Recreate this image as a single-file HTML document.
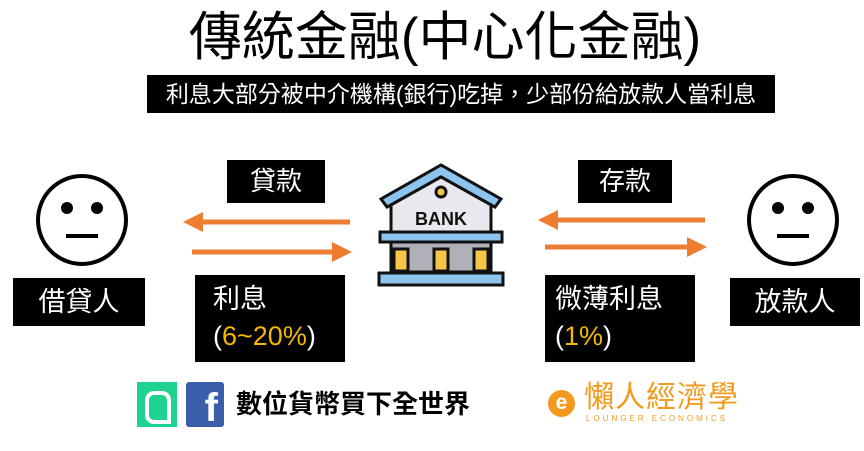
<!DOCTYPE html>
<html><head><meta charset="utf-8"><style>
body{margin:0;width:864px;height:451px;background:#fff;position:relative;overflow:hidden;font-family:"Liberation Sans","Noto Sans CJK TC",sans-serif}
.a{position:absolute}
.box{position:absolute;background:#000;color:#fff}
</style></head><body>
<div class="a" style="left:0;width:890px;top:4px;text-align:center;font-size:53px;line-height:68px;color:#000">傳統金融(中心化金融)</div>
<div class="box" style="left:147px;top:75px;width:628px;height:38px;font-size:23px;line-height:38px;text-align:center">利息大部分被中介機構(銀行)吃掉，少部份給放款人當利息</div>

<svg class="a" style="left:0;top:0" width="864" height="451">
<defs><marker id="ah" markerWidth="4" markerHeight="4" refX="2" refY="2" orient="auto"><path d="M0,0L4,2L0,4z" fill="#ED7D31"/></marker></defs>
<g fill="none" stroke="#000" stroke-width="4">
<circle cx="82" cy="220" r="44"/><circle cx="67" cy="208" r="4" fill="#000"/><circle cx="97" cy="208" r="4" fill="#000"/><line x1="66" y1="236" x2="98" y2="236"/></g>
<g fill="none" stroke="#000" stroke-width="4">
<circle cx="793" cy="220" r="44"/><circle cx="778" cy="208" r="4" fill="#000"/><circle cx="808" cy="208" r="4" fill="#000"/><line x1="777" y1="236" x2="809" y2="236"/></g>
<g stroke="#ED7D31" stroke-width="5" marker-end="url(#ah)">
<line x1="350" y1="222" x2="193" y2="222"/>
<line x1="192" y1="252" x2="342" y2="252"/>
<line x1="705" y1="220" x2="548" y2="220"/>
<line x1="545" y1="247" x2="697" y2="247"/></g>
<g stroke="#111" stroke-width="3">
<path d="M381,199 L441,165 L501,199 L495,207 L441,177 L387,207Z" fill="#8CC4EE"/>
<path d="M391,205 L441,177 L491,205 L491,232 L391,232Z" fill="#E8E8EE"/>
<circle cx="441" cy="192" r="5" fill="#F7C548"/>
<text x="441" y="225" text-anchor="middle" font-size="18" font-weight="bold" stroke="none" fill="#111" font-family="Liberation Sans">BANK</text>
<rect x="380" y="232" width="122" height="10" fill="#8CC4EE"/>
<rect x="391" y="242" width="100" height="30" fill="#B0B0B8"/>
<rect x="394" y="249" width="14" height="22" fill="#F7C548"/>
<rect x="434" y="249" width="14" height="22" fill="#F7C548"/>
<rect x="474" y="249" width="14" height="22" fill="#F7C548"/>
<rect x="379" y="273" width="124" height="12" fill="#8CC4EE"/></g>
</svg>

<div class="box" style="left:227px;top:160px;width:98px;height:43px;font-size:26px;line-height:43px;text-align:center">貸款</div>
<div class="box" style="left:578px;top:160px;width:94px;height:43px;font-size:26px;line-height:43px;text-align:center">存款</div>
<div class="box" style="left:13px;top:278px;width:132px;height:48px;font-size:27px;line-height:48px;text-align:center">借貸人</div>
<div class="box" style="left:730px;top:278px;width:130px;height:48px;font-size:27px;line-height:48px;text-align:center">放款人</div>
<div class="box" style="left:195px;top:275px;width:150px;height:87px;font-size:27px;line-height:37px;padding:6px 0 0 18px;box-sizing:border-box">利息<br>(<span style="color:#F5B800">6~20%</span>)</div>
<div class="box" style="left:545px;top:275px;width:150px;height:87px;font-size:27px;line-height:37px;padding:6px 0 0 10px;box-sizing:border-box">微薄利息<br>(<span style="color:#F5B800">1%</span>)</div>

<div class="a" style="left:137px;top:382px;width:40px;height:45px;background:#1ED38F"><div style="position:absolute;left:8px;top:9px;width:18px;height:25px;border:4px solid #fff;border-radius:9px 9px 0 9px"></div></div>
<div class="a" style="left:186px;top:382px;width:38px;height:45px;background:#3B5EAA;border-radius:3px;color:#fff;font-size:40px;font-weight:bold;text-align:right;line-height:52px;padding-right:6px;box-sizing:border-box;overflow:hidden">f</div>
<div class="a" style="left:236px;top:386px;font-size:26px;font-weight:bold;line-height:36px;color:#000">數位貨幣買下全世界</div>
<div class="a" style="left:548px;top:390px;width:27px;height:27px;border-radius:50%;background:#F39A1E;color:#fff;font-size:21px;line-height:25px;text-align:center;font-weight:bold">e</div>
<div class="a" style="left:584px;top:380px;font-size:30px;line-height:36px;letter-spacing:1px;color:#F39A1E">懶人經濟學</div>
<div class="a" style="left:586px;top:414px;font-size:8px;letter-spacing:3px;color:#F39A1E">LOUNGER ECONOMICS</div>
</body></html>
